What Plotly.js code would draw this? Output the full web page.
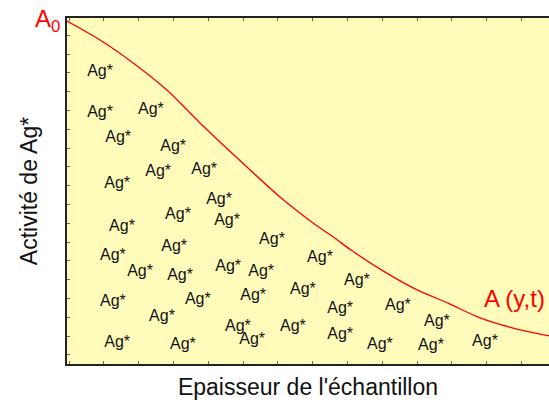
<!DOCTYPE html>
<html>
<head>
<meta charset="utf-8">
<script src="https://cdn.plot.ly/plotly-3.0.1.min.js"></script>
<style>html,body{margin:0;padding:0;background:#fff;}#chart{width:549px;height:404px;}</style>
</head>
<body>
<div id="chart"></div>
<script>
// Activity curve A(y,t) along sample thickness
const curveX = [0, 0.95, 1.90, 2.87, 3.82, 5.17, 6.12, 7.07, 7.73, 8.13, 9.08, 10.06, 10.95, 11.87, 12.82, 13.85];
const curveY = [18.24, 17.23, 16.01, 14.57, 12.82, 10.48, 8.88, 7.50, 6.65, 6.10, 4.95, 3.94, 3.24, 2.45, 1.91, 1.49];

// Positions of the "Ag*" labels
const agX = [0.95, 0.95, 2.41, 1.47, 3.05, 1.44, 2.62, 3.94, 4.37, 3.19, 4.60, 1.58, 5.89, 3.08, 1.32, 7.27,
             2.10, 3.25, 4.63, 5.58, 8.33, 6.78, 1.32, 3.76, 5.35, 7.85, 9.51, 2.73, 10.63, 4.91, 6.49, 7.85,
             5.32, 1.44, 3.33, 8.99, 10.46, 12.01];
const agY = [15.53, 13.35, 13.51, 12.02, 11.54, 9.57, 10.21, 10.32, 8.72, 7.93, 7.61, 7.29, 6.60, 6.22, 5.74, 5.64,
             4.89, 4.68, 5.16, 4.89, 4.41, 3.94, 3.30, 3.40, 3.62, 2.93, 3.09, 2.50, 2.23, 1.97, 1.97, 1.54,
             1.28, 1.12, 1.01, 1.01, 0.96, 1.17];
const agText = agX.map(() => 'Ag*');

const labelStart = 'A<sub>0</sub>';
const labelEnd = 'A (y,t)';
const xTitle = "Epaisseur de l'échantillon";
const yTitle = 'Activité de Ag*';

const font = 'Liberation Sans, Arial, sans-serif';

const traces = [
  {
    x: curveX, y: curveY, type: 'scatter', mode: 'lines',
    line: {color: '#ff0000', width: 1.3, shape: 'spline', smoothing: 0.8},
    hoverinfo: 'skip', showlegend: false
  },
  {
    x: agX, y: agY, text: agText, type: 'scatter', mode: 'text',
    textposition: 'middle center',
    textfont: {family: font, size: 16, color: '#111111'},
    hoverinfo: 'skip', showlegend: false
  }
];

const layout = {
  width: 549, height: 404,
  margin: {l: 67, r: 0, t: 18, b: 40},
  paper_bgcolor: '#ffffff',
  plot_bgcolor: '#fffcbb',
  font: {family: font, color: '#111111'},
  showlegend: false,
  xaxis: {
    range: [0, 13.85], tick0: 0.06, dtick: 1,
    showgrid: false, zeroline: false, showticklabels: false,
    ticks: 'inside', ticklen: 3, tickcolor: '#666666', tickwidth: 1,
    showline: true, linecolor: '#222222', linewidth: 2, mirror: 'ticks',
    title: {text: xTitle, font: {family: font, size: 23, color: '#111111'}, standoff: 14}
  },
  yaxis: {
    range: [0, 18.4], tick0: 0.48, dtick: 1,
    showgrid: false, zeroline: false, showticklabels: false,
    ticks: 'inside', ticklen: 3, tickcolor: '#666666', tickwidth: 1,
    showline: true, linecolor: '#222222', linewidth: 2, mirror: false,
    title: {text: yTitle, font: {family: font, size: 23, color: '#111111'}, standoff: 21}
  },
  annotations: [
    {
      xref: 'paper', yref: 'paper', x: 0, y: 1, xanchor: 'right', yanchor: 'middle',
      xshift: -5, yshift: -2, showarrow: false, text: labelStart,
      font: {family: font, size: 24, color: '#ff0000'}
    },
    {
      xref: 'paper', yref: 'paper', x: 1, y: 0.19, xanchor: 'right', yanchor: 'middle',
      xshift: -2, showarrow: false, text: labelEnd,
      font: {family: font, size: 24, color: '#ff0000'}
    }
  ]
};

Plotly.newPlot('chart', traces, layout, {displayModeBar: false, staticPlot: true});
</script>
</body>
</html>
